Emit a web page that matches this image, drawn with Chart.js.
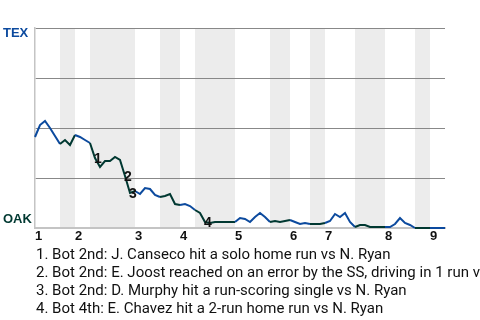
<!DOCTYPE html>
<html>
<head>
<meta charset="utf-8">
<script src="https://cdn.jsdelivr.net/npm/chart.js@4.4.1/dist/chart.umd.min.js"></script>
<style>
  html, body { margin: 0; padding: 0; background: #fff; }
  #wrap { position: relative; width: 480px; height: 320px; overflow: hidden; }
  #box { position: absolute; left: 0; top: 0; width: 480px; height: 250px; }
  #notes { position: absolute; left: 36px; top: 245px; width: 444px; overflow: hidden;
           font-family: Roboto, "Noto Sans", sans-serif; font-size: 15px; line-height: 18px;
           color: #111; white-space: nowrap; }
</style>
</head>
<body>
<div id="wrap">
  <div id="box"><canvas id="c"></canvas></div>
  <div id="notes"></div>
</div>
<script>
// ---- data ----
const teamTop = 'TEX';
const teamBottom = 'OAK';
// TEX win probability (%) after each plate appearance (index 0 = game start)
const winProbTEX = [
  45.5, 51.5, 53.5, 50, 46, 42,
  44, 41.5, 46.5,
  45.5, 44, 42.5,
  35, 30.5, 33.5, 33.5, 35.5, 34, 26, 17.5, 18.5,
  17, 20, 19.5, 16.5, 15.5,
  16, 17, 12, 11.5,
  12, 11, 9,
  7.5, 3, 2.5, 3, 3, 3, 3, 3,
  5, 4.5, 3, 5.5, 7.5, 5.5, 3,
  3.5, 3, 3.5, 4,
  3, 2, 2.5, 2,
  2, 2, 2.5,
  3.5, 7, 5.5, 7.5, 3, 0.5,
  1.5, 1.5, 0.5, 0.5, 0.5, 0.5,
  0.5, 2, 5, 2.5, 1.5, 0,
  0, 0, 0,
  0, 0, 0
];
// plate-appearance index where each half inning begins (top 1, bot 1, top 2, ...), last = end
const halfInningStarts = [0, 5, 8, 11, 20, 25, 29, 32, 40, 47, 51, 55, 58, 64, 70, 76, 79, 82];
const inningLabels = ['1', '2', '3', '4', '5', '6', '7', '8', '9'];
const eventIndex = [12, 18, 19, 34];
const eventLabels = ['1', '2', '3', '4'];
const eventNotes = [
  '1. Bot 2nd: J. Canseco hit a solo home run vs N. Ryan',
  '2. Bot 2nd: E. Joost reached on an error by the SS, driving in 1 run vs N. Ryan',
  '3. Bot 2nd: D. Murphy hit a run-scoring single vs N. Ryan',
  '4. Bot 4th: E. Chavez hit a 2-run home run vs N. Ryan'
];

// ---- derived ----
const TEX_BLUE = '#0c4a9e';
const OAK_GREEN = '#003831';
const BOLD_FONT = '"Liberation Sans", Arial, sans-serif';
const points = winProbTEX.map((v, i) => ({ x: i, y: v }));
const inningStarts = halfInningStarts.filter((v, i) => i % 2 === 0 && i < halfInningStarts.length - 1);
const bottomBands = [];
for (let i = 1; i < halfInningStarts.length - 1; i += 2) {
  bottomBands.push([halfInningStarts[i], halfInningStarts[i + 1]]);
}
function inBottom(p0, p1) {
  return bottomBands.some(b => p0 >= b[0] && p1 <= b[1]);
}

document.getElementById('notes').innerHTML = eventNotes.map(t => '<div>' + t + '</div>').join('');

const bandsPlugin = {
  id: 'bands',
  beforeDraw(chart) {
    const { ctx, chartArea, scales } = chart;
    ctx.save();
    ctx.fillStyle = '#ececec';
    bottomBands.forEach(b => {
      const x0 = scales.x.getPixelForValue(b[0]);
      const x1 = scales.x.getPixelForValue(b[1]);
      ctx.fillRect(x0, chartArea.top, x1 - x0, chartArea.bottom - chartArea.top);
    });
    ctx.restore();
  }
};

const labelsPlugin = {
  id: 'labels',
  afterDatasetsDraw(chart) {
    const { ctx, scales } = chart;
    ctx.save();
    ctx.font = 'bold 13px ' + BOLD_FONT;
    ctx.textBaseline = 'middle';
    ctx.textAlign = 'left';
    ctx.fillStyle = TEX_BLUE;
    ctx.fillText(teamTop, 3, scales.y.getPixelForValue(100) + 5);
    ctx.fillStyle = OAK_GREEN;
    ctx.fillText(teamBottom, 3, scales.y.getPixelForValue(0) - 9);
    ctx.fillStyle = '#111';
    ctx.font = 'bold 14px ' + BOLD_FONT;
    eventIndex.forEach((idx, k) => {
      const px = scales.x.getPixelForValue(idx);
      const py = scales.y.getPixelForValue(winProbTEX[idx]);
      ctx.fillText(eventLabels[k], px - 1, py + 1);
    });
    ctx.restore();
  }
};

new Chart(document.getElementById('c'), {
  type: 'line',
  data: {
    datasets: [{
      data: points,
      borderWidth: 2,
      pointRadius: 0,
      tension: 0,
      fill: false,
      clip: false,
      borderColor: TEX_BLUE,
      segment: {
        borderColor: c => inBottom(c.p0DataIndex, c.p1DataIndex) ? OAK_GREEN : TEX_BLUE
      }
    }]
  },
  options: {
    responsive: true,
    maintainAspectRatio: false,
    animation: false,
    layout: { padding: { left: 0, right: 35, top: 28, bottom: 0 } },
    plugins: { legend: { display: false }, tooltip: { enabled: false } },
    scales: {
      x: {
        type: 'linear',
        min: 0,
        max: winProbTEX.length - 1,
        afterBuildTicks: s => { s.ticks = inningStarts.map(v => ({ value: v })); },
        afterFit: s => { s.height = 22; },
        grid: { display: false, drawTicks: false },
        border: { display: true, color: '#c4c4c4', width: 2 },
        ticks: {
          autoSkip: false,
          maxRotation: 0,
          align: 'start',
          padding: 1,
          color: '#111',
          font: { family: BOLD_FONT, size: 13, weight: 'bold' },
          callback: (v, i) => inningLabels[i]
        }
      },
      y: {
        min: 0,
        max: 100,
        afterFit: s => { s.width = 35; },
        ticks: { display: false, stepSize: 25 },
        grid: {
          drawTicks: false,
          color: c => c.tick && c.tick.value === 0 ? 'rgba(0,0,0,0)' : '#888',
          lineWidth: 1
        },
        border: { display: true, color: '#c4c4c4', width: 1.5 }
      }
    }
  },
  plugins: [bandsPlugin, labelsPlugin]
});
</script>
</body>
</html>
